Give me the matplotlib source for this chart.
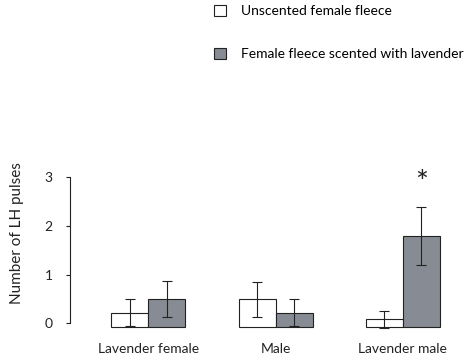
import numpy as np
import matplotlib
matplotlib.use("Agg")
import matplotlib.pyplot as plt

plt.rcParams['font.family'] = ['Lato', 'DejaVu Sans']

groups = ["Lavender female", "Male", "Lavender male"]
unscented = [0.22, 0.49, 0.08]
unscented_err = [0.27, 0.36, 0.17]
scented = [0.49, 0.22, 1.79]
scented_err = [0.37, 0.27, 0.60]
series_labels = ["Unscented female fleece", "Female fleece scented with lavender"]

base = -0.07
width = 0.291
x = np.arange(len(groups))
edge = "#222222"
grey = "#878b93"

fig = plt.figure(figsize=(4.68, 3.62), dpi=100)
ax = fig.add_axes([70 / 468, 0.0801, 390 / 468, 0.4972])

err_kw = dict(ecolor=edge, elinewidth=0.8, capsize=3.6, capthick=0.8)
b1 = ax.bar(x - width / 2, np.array(unscented) - base, width, bottom=base,
            color="white", edgecolor=edge, linewidth=0.8)
b2 = ax.bar(x + width / 2, np.array(scented) - base, width, bottom=base,
            color=grey, edgecolor=edge, linewidth=0.8)
ax.errorbar(x - width / 2, unscented, yerr=unscented_err, fmt="none", **err_kw)
ax.errorbar(x + width / 2, scented, yerr=scented_err, fmt="none", **err_kw)

# significance marker over the lavender-male scented bar
ax.text(x[2] + width / 2, scented[2] + scented_err[2] + 0.5, "*",
        ha="center", va="center", fontsize=22, color="#222222")

ax.set_xlim(-0.616, 2.45)
ax.set_ylim(-0.2, 3.5)
ax.set_yticks([0, 1, 2, 3])
ax.set_xticks(x)
ax.set_xticklabels(groups)
ax.tick_params(axis="x", length=0, pad=7, labelsize=10, colors="#222222")
ax.tick_params(axis="y", length=3, width=0.8, pad=9.5, labelsize=10,
               colors="#222222")
for s in ["top", "right", "bottom"]:
    ax.spines[s].set_visible(False)
ax.spines["left"].set_bounds(0, 3)
ax.spines["left"].set_linewidth(0.8)
ax.spines["left"].set_color("#222222")

ax.set_ylabel("Number of LH pulses", fontsize=11, color="#222222")
ax.yaxis.set_label_coords(-0.118, 0.555)

fig.legend([b1, b2], series_labels, loc="upper left",
           bbox_to_anchor=(214 / 468, 1 - 5 / 362), frameon=False,
           fontsize=10, handlelength=0.85, handleheight=0.85,
           handletextpad=1.1, labelspacing=2.2, borderpad=0,
           borderaxespad=0)

fig.savefig("out.png", dpi=100)
